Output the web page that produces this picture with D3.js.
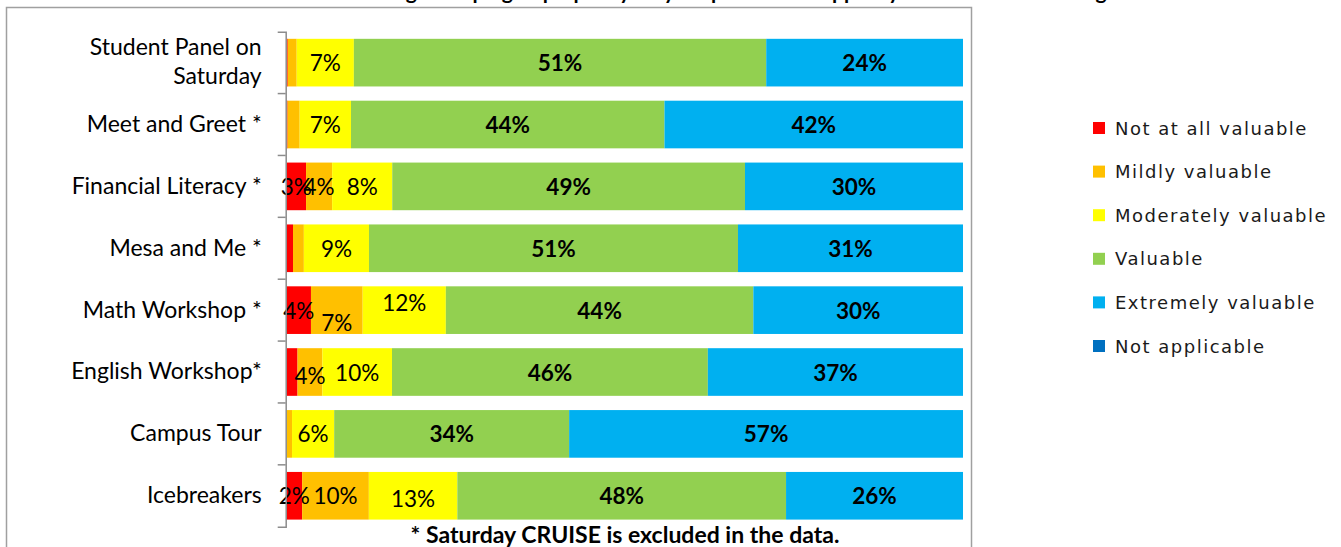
<!DOCTYPE html>
<html>
<head>
<meta charset="utf-8">
<script src="https://cdn.jsdelivr.net/npm/d3@7"></script>
<style>
  body { margin: 0; background: #fff; }
  svg { display: block; }
</style>
</head>
<body>
<div id="chart"></div>
<script>
// survey results, one value per category (percent of respondents)
const categories = [
    'Student Panel on Saturday',
    'Meet and Greet *',
    'Financial Literacy *',
    'Mesa and Me *',
    'Math Workshop *',
    'English Workshop*',
    'Campus Tour',
    'Icebreakers'
];
const seriesNames = ['Not at all valuable', 'Mildly valuable', 'Moderately valuable', 'Valuable', 'Extremely valuable', 'Not applicable'];
const notAtAll      = [0.15, 0.15, 2.7, 0.9, 3.5, 1.6, 0, 2.3];
const mildly        = [1.1, 1.7, 3.6, 1.5, 7.4, 3.6, 0.8, 9.8];
const moderately    = [7.0, 7.2, 8.3, 9.0, 11.9, 10.1, 6.1, 13.0];
const valuable      = [50.5, 44.0, 48.7, 51.0, 44.0, 45.8, 34.0, 48.3];
const extremely     = [24.1, 41.9, 30.1, 31.1, 30.0, 37.0, 57.0, 26.0];
const notApplicable = [0, 0, 0, 0, 0, 0, 0, 0];
const note = '* Saturday CRUISE is excluded in the data.';
const title = '18. How valuable were each of the following in helping to prepare you/your parents to support your success as a college student?';

const colors = ['#FF0000', '#FFC000', '#FFFF00', '#92D050', '#00B0F0', '#0070C0'];

// excel moved a few overlapping labels up/down
const labelNudge = {
    'Math Workshop *|Moderately valuable': -8,
    'Math Workshop *|Mildly valuable': 12,
    'English Workshop*|Mildly valuable': 3,
    'Icebreakers|Moderately valuable': 3
};

const allSeries = [notAtAll, mildly, moderately, valuable, extremely, notApplicable];
const rows = categories.map((c, i) => {
    const row = { category: c };
    seriesNames.forEach((s, j) => { row[s] = allSeries[j][i]; });
    return row;
});

const width = 1341, height = 547;
const font = 'Lato, sans-serif';

const svg = d3.select('#chart')
    .append('svg')
    .attr('width', width)
    .attr('height', height);

// cut-off question text above the chart frame
svg.append('text')
    .attr('x', 4)
    .attr('y', -1.5)
    .style('font-family', font)
    .style('font-weight', 'bold')
    .style('font-size', '21px')
    .text(title);

// chart frame
svg.append('rect')
    .attr('x', 6.5)
    .attr('y', 7.5)
    .attr('width', 965)
    .attr('height', 600)
    .attr('fill', 'none')
    .attr('stroke', '#a0a0a0')
    .attr('stroke-width', 1.5);

const stack = d3.stack()
    .keys(seriesNames)
    .offset(d3.stackOffsetExpand);
const stacked = stack(rows);

const xScale = d3.scaleLinear()
    .domain([0, 1])
    .range([286.5, 963]);

const yScale = d3.scaleBand()
    .domain(categories)
    .range([31.7, 526.7])
    .paddingInner(0.23)
    .paddingOuter(0.115);

const layers = svg.selectAll('g.layer')
    .data(stacked)
    .enter()
    .append('g')
    .attr('class', 'layer')
    .attr('fill', (d, i) => colors[i]);

layers.selectAll('rect')
    .data(d => d)
    .enter()
    .append('rect')
    .attr('x', d => xScale(d[0]))
    .attr('y', d => yScale(d.data.category))
    .attr('width', d => xScale(d[1]) - xScale(d[0]))
    .attr('height', yScale.bandwidth());

// data labels
stacked.forEach((layer, i) => {
    const key = layer.key;
    const bold = key === 'Valuable' || key === 'Extremely valuable';
    svg.append('g')
        .selectAll('text')
        .data(layer.filter(d => d.data[key] >= 2))
        .enter()
        .append('text')
        .attr('x', d => (xScale(d[0]) + xScale(d[1])) / 2)
        .attr('y', d => yScale(d.data.category) + yScale.bandwidth() / 2 + (labelNudge[d.data.category + '|' + key] || 0))
        .attr('text-anchor', 'middle')
        .attr('dominant-baseline', 'central')
        .style('font-family', font)
        .style('font-size', '22.5px')
        .style('font-weight', bold ? 'bold' : 'normal')
        .style('fill', '#000')
        .text(d => Math.round(d.data[key]) + '%');
});

// category axis
const axisX = 285.7;
const yAxis = d3.axisLeft(yScale)
    .tickSizeInner(0)
    .tickSizeOuter(8)
    .tickPadding(24);

const axisG = svg.append('g')
    .attr('transform', `translate(${axisX}, 0)`)
    .call(yAxis);

axisG.select('.domain')
    .attr('stroke', '#8c8c8c')
    .attr('stroke-width', 1.5);

axisG.selectAll('.tick text')
    .style('font-family', font)
    .style('font-size', '23px')
    .style('fill', '#000');

// wrap long category names
axisG.selectAll('.tick text').each(function () {
    const t = d3.select(this);
    if (this.getComputedTextLength() < 220) return;
    const words = t.text().split(' ');
    const lines = [words.slice(0, 3).join(' '), words.slice(3).join(' ')];
    t.text(null);
    lines.forEach((l, k) => {
        t.append('tspan')
            .attr('x', -24)
            .attr('dy', k === 0 ? '-0.35em' : '1.3em')
            .text(l);
    });
});

// tick marks between the categories
const step = yScale.step();
const boundaries = categories.map(c => yScale(c) - step * yScale.paddingInner() / 2).slice(1);
axisG.selectAll('line.sep')
    .data(boundaries)
    .enter()
    .append('line')
    .attr('class', 'sep')
    .attr('x1', -8)
    .attr('x2', 0)
    .attr('y1', d => d)
    .attr('y2', d => d)
    .attr('stroke', '#8c8c8c')
    .attr('stroke-width', 1.5);

// footnote
svg.append('text')
    .attr('x', 625)
    .attr('y', 534)
    .attr('text-anchor', 'middle')
    .attr('dominant-baseline', 'central')
    .style('font-family', font)
    .style('font-weight', 'bold')
    .style('font-size', '23px')
    .text(note);

// legend
const legend = svg.append('g')
    .attr('transform', 'translate(1093, 128)')
    .selectAll('g')
    .data(seriesNames)
    .enter()
    .append('g')
    .attr('transform', (d, i) => `translate(0, ${i * 43.6})`);

legend.append('rect')
    .attr('x', 0)
    .attr('y', -6)
    .attr('width', 12)
    .attr('height', 12)
    .attr('fill', (d, i) => colors[i]);

legend.append('text')
    .attr('x', 22)
    .attr('y', 0)
    .attr('dominant-baseline', 'central')
    .style('font-family', '"DejaVu Sans", sans-serif')
    .style('font-size', '18px')
    .style('letter-spacing', '1.5px')
    .style('fill', '#1a1a1a')
    .text(d => d);
</script>
</body>
</html>
